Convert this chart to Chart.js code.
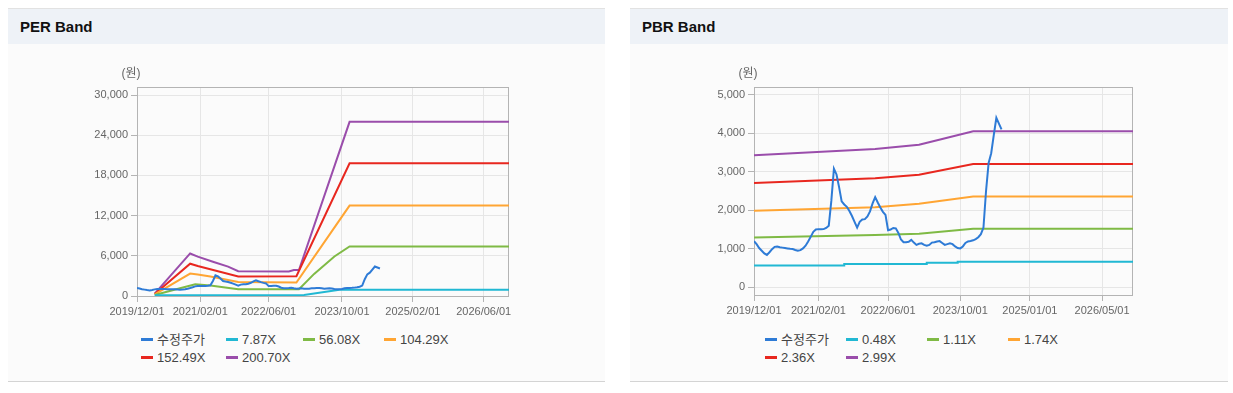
<!DOCTYPE html>
<html lang="ko">
<head>
<meta charset="utf-8">
<title>PER / PBR Band</title>
<script src="https://cdn.jsdelivr.net/npm/chart.js@4.4.1/dist/chart.umd.min.js"></script>
<style>
  html, body { margin: 0; padding: 0; background: #fff; }
  body { width: 1233px; height: 393px; position: relative; overflow: hidden;
         font-family: 'Liberation Sans', 'Noto Sans CJK KR', sans-serif; }
  .panel { position: absolute; top: 8px; height: 374px; box-sizing: border-box;
           background: #fbfbfb; border-top: 1px solid #e2e2e2; border-bottom: 1px solid #d4d4d4; }
  .panel .head { height: 35px; line-height: 35px; padding-left: 12px; background: #eef2f7;
                 font-size: 15px; font-weight: bold; color: #111; }
  .box { position: absolute; top: 60px; width: 490px; height: 262px; }
  .legend { position: absolute; top: 331px; display: grid; font-size: 13px; color: #444; line-height: 18px; }
  .legend .item { white-space: nowrap; }
  .legend i { display: inline-block; width: 12px; height: 3px; margin-right: 4px; vertical-align: middle; position: relative; top: -1px; }
</style>
</head>
<body>
<div class="panel" style="left:8px; width:597px;"><div class="head">PER Band</div></div>
<div class="panel" style="left:630px; width:598px;"><div class="head">PBR Band</div></div>

<div class="box" style="left:40px;"><canvas id="perChart"></canvas></div>
<div class="box" style="left:660px;"><canvas id="pbrChart"></canvas></div>
<div class="legend" id="perLegend" style="left:141px; grid-template-columns: 85px 77px 81px 81px;"></div>
<div class="legend" id="pbrLegend" style="left:765px; grid-template-columns: 81px 81px 81px 81px;"></div>

<script>
// 수정주가 (index = position on the x axis, 0 = 2019/12/01)
const priceValues = [
  1200, 1120, 1020, 950, 880, 840, 910, 990, 1050, 1060,
  1040, 1030, 1020, 1010, 1000, 995, 970, 950, 965, 1010,
  1080, 1190, 1310, 1440, 1500, 1510, 1505, 1510, 1540, 1600,
  2250, 3080, 2930, 2600, 2230, 2150, 2090, 1980, 1850, 1700,
  1550, 1700, 1760, 1770, 1840, 1970, 2180, 2340, 2200, 2070,
  1960, 1880, 1480, 1500, 1540, 1530, 1410, 1240, 1170, 1170,
  1180, 1230, 1160, 1100, 1130, 1140, 1100, 1080, 1100, 1160,
  1170, 1190, 1200, 1150, 1100, 1120, 1140, 1120, 1060, 1020,
  1010, 1060, 1150, 1190, 1200, 1220, 1250, 1300, 1380, 1550,
  2500, 3230, 3480, 3950, 4400, 4250, 4100
];
const lastIdx = 147;

// PER band
const perNames = ['수정주가', '7.87X', '56.08X', '104.29X', '152.49X', '200.70X'];
const perTickIdx = [0, 25, 52, 81, 109, 137];
const perTickLabels = ['2019/12/01', '2021/02/01', '2022/06/01', '2023/10/01', '2025/02/01', '2026/06/01'];
const perYTicks = [0, 6000, 12000, 18000, 24000, 30000];
const per787X = [7, 66, 80, 147];
const per787 = [120, 150, 920, 920];
const per5608X = [7, 17, 23, 29, 40, 64, 70, 78, 84, 147];
const per5608 = [150, 1150, 1750, 1550, 1000, 1000, 3300, 5900, 7400, 7400];
const per10429X = [7, 21, 24, 29, 40, 63, 84, 147];
const per10429 = [250, 3350, 3200, 2900, 2100, 2000, 13500, 13500];
const per15249X = [7, 21, 24, 40, 63, 84, 147];
const per15249 = [300, 4820, 4480, 2900, 2950, 19800, 19800];
const per20070X = [7, 21, 24, 30, 36, 40, 60, 62, 64, 84, 147];
const per20070 = [350, 6350, 5870, 5120, 4380, 3700, 3650, 3880, 3880, 26000, 26000];

// PBR band
const pbrNames = ['수정주가', '0.48X', '1.11X', '1.74X', '2.36X', '2.99X'];
const pbrTickIdx = [0, 25, 52, 80, 107, 135];
const pbrTickLabels = ['2019/12/01', '2021/02/01', '2022/06/01', '2023/10/01', '2025/01/01', '2026/05/01'];
const pbrYTicks = [0, 1000, 2000, 3000, 4000, 5000];
const pbr048X = [0, 35, 35, 67, 67, 79, 79, 147];
const pbr048 = [565, 565, 605, 605, 640, 640, 665, 665];
const pbr111X = [0, 47, 64, 85, 147];
const pbr111 = [1290, 1360, 1390, 1520, 1520];
const pbr174X = [0, 47, 64, 85, 147];
const pbr174 = [1990, 2080, 2170, 2356, 2356];
const pbr236X = [0, 47, 64, 85, 147];
const pbr236 = [2710, 2830, 2920, 3200, 3200];
const pbr299X = [0, 47, 64, 73, 85, 147];
const pbr299 = [3430, 3590, 3700, 3850, 4050, 4050];

const seriesColors = ['#2e7bd6', '#21b8d3', '#7fba45', '#ffa533', '#e8271f', '#9a4dab'];

Chart.defaults.font.family = "'Liberation Sans', 'Noto Sans CJK KR', sans-serif";
Chart.defaults.font.size = 11;
Chart.defaults.color = '#666';

function pts(xs, ys) {
    return ys.map((y, i) => ({ x: xs[i], y: y }));
}
const priceX = priceValues.map((v, i) => i);

// 차트 테두리 + 단위 표시
const frame = {
    id: 'frame',
    beforeDatasetsDraw(chart) {
        const a = chart.chartArea, ctx = chart.ctx;
        ctx.save();
        ctx.strokeStyle = '#b4b4b4';
        ctx.lineWidth = 1;
        ctx.strokeRect(Math.round(a.left) + 0.5, Math.round(a.top) + 0.5,
                       Math.round(a.right - a.left) - 1, Math.round(a.bottom - a.top));
        ctx.font = "12px 'Liberation Sans', 'Noto Sans CJK KR', sans-serif";
        ctx.fillStyle = '#666';
        ctx.textAlign = 'center';
        ctx.textBaseline = 'middle';
        ctx.fillText('(원)', a.left - 6, a.top - 13);
        ctx.restore();
    }
};

function bandChart(cfg) {
    const datasets = cfg.series.map((s, i) => ({
        label: cfg.names[i],
        data: s,
        borderColor: seriesColors[i],
        backgroundColor: seriesColors[i],
        borderWidth: 2,
        pointRadius: 0,
        tension: 0,
        fill: false
    }));
    const chart = new Chart(document.getElementById(cfg.id), {
        type: 'line',
        data: { datasets: datasets },
        options: {
            responsive: true,
            maintainAspectRatio: false,
            animation: false,
            layout: { padding: { top: 27, right: cfg.padRight, left: 0, bottom: 0 } },
            plugins: { legend: { display: false }, tooltip: { enabled: false } },
            scales: {
                x: {
                    type: 'linear', min: 0, max: lastIdx,
                    afterBuildTicks: sc => { sc.ticks = cfg.tickIdx.map(v => ({ value: v })); },
                    afterFit: sc => { sc.height = cfg.xHeight; },
                    ticks: { autoSkip: false, maxRotation: 0, padding: 3, callback: (v, i) => cfg.tickLabels[i] },
                    grid: { color: '#e6e6e6', tickLength: 6, tickColor: '#b4b4b4' },
                    border: { display: false }
                },
                y: {
                    min: cfg.yMin, max: cfg.yMax,
                    afterBuildTicks: sc => { sc.ticks = cfg.yTicks.map(v => ({ value: v })); },
                    afterFit: sc => { sc.width = cfg.yWidth; },
                    ticks: { padding: 3, callback: v => v.toLocaleString('en-US') },
                    grid: { color: '#e6e6e6', tickLength: 6, tickColor: '#b4b4b4' },
                    border: { display: false }
                }
            }
        },
        plugins: [frame]
    });

    // html 범례
    const el = document.getElementById(cfg.legend);
    chart.data.datasets.forEach(ds => {
        const item = document.createElement('div');
        item.className = 'item';
        const mark = document.createElement('i');
        mark.style.background = ds.borderColor;
        item.appendChild(mark);
        item.appendChild(document.createTextNode(ds.label));
        el.appendChild(item);
    });
    return chart;
}

bandChart({
    id: 'perChart', legend: 'perLegend', names: perNames,
    series: [pts(priceX, priceValues), pts(per787X, per787), pts(per5608X, per5608),
             pts(per10429X, per10429), pts(per15249X, per15249), pts(per20070X, per20070)],
    tickIdx: perTickIdx, tickLabels: perTickLabels, yTicks: perYTicks,
    yMin: 0, yMax: 31200,
    yWidth: 97, padRight: 21, xHeight: 26
});

bandChart({
    id: 'pbrChart', legend: 'pbrLegend', names: pbrNames,
    series: [pts(priceX, priceValues), pts(pbr048X, pbr048), pts(pbr111X, pbr111),
             pts(pbr174X, pbr174), pts(pbr236X, pbr236), pts(pbr299X, pbr299)],
    tickIdx: pbrTickIdx, tickLabels: pbrTickLabels, yTicks: pbrYTicks,
    yMin: -200, yMax: 5200,
    yWidth: 94, padRight: 17, xHeight: 27
});
</script>
</body>
</html>
